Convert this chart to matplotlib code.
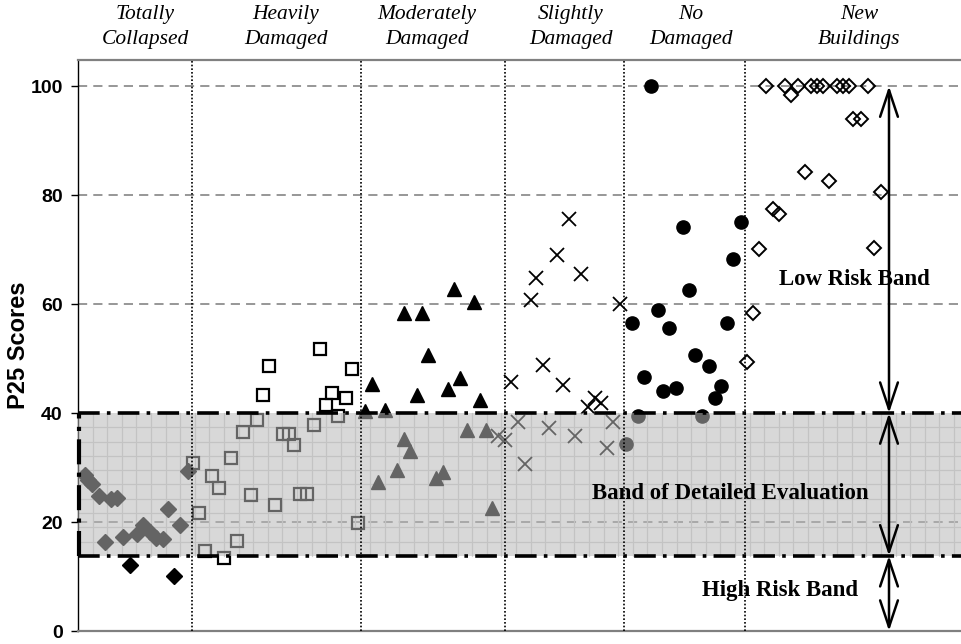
import numpy as np
import matplotlib.pyplot as plt
from matplotlib.patches import FancyArrowPatch
from matplotlib.transforms import blended_transform_factory

# building categories (label, centre position on the x axis)
categories = ['Totally\nCollapsed', 'Heavily\nDamaged', 'Moderately\nDamaged',
              'Slightly\nDamaged', 'No\nDamaged', 'New\nBuildings']
cat_centres = [6.7, 20.8, 34.9, 49.3, 61.3, 78.1]
dividers = [11.4, 28.3, 42.7, 54.6, 66.7]

# P25 scores
collapsed_x = [0.7, 1.0, 1.4, 2.1, 3.3, 3.9, 2.7, 4.5, 5.9, 6.5, 7.2, 7.8, 8.5, 9.0, 10.2, 11.0, 5.2, 9.6]
collapsed_y = [28.6, 27.7, 27.0, 24.8, 24.2, 24.5, 16.4, 17.2, 17.8, 19.4, 18.2, 17.0, 16.8, 22.3, 19.4, 29.4, 12.1, 10.1]

heavy_x = [14.6, 18.5, 19.1, 24.2, 24.8, 25.4, 26.8, 27.4,
           11.5, 12.1, 12.7, 13.4, 14.1, 15.3, 15.9, 16.5, 17.3, 17.9,
           19.7, 20.5, 21.1, 21.6, 22.2, 22.9, 23.6, 26.0, 28.0]
heavy_y = [13.4, 43.4, 48.7, 51.7, 41.4, 43.7, 42.8, 48.0,
           30.8, 21.6, 14.7, 28.5, 26.2, 31.8, 16.6, 36.5, 24.9, 38.7,
           23.1, 36.1, 36.1, 34.1, 25.1, 25.1, 37.8, 39.5, 19.9]

moderate_x = [28.7, 30.7, 29.4, 32.6, 30.0, 31.9, 33.9, 33.2, 32.6, 34.4, 35.0,
              35.8, 36.5, 37.0, 37.6, 38.2, 38.9, 39.6, 40.2, 40.8, 41.4]
moderate_y = [40.4, 40.5, 45.4, 35.2, 27.3, 29.5, 43.4, 33.1, 58.3, 58.3, 50.6,
              28.0, 29.2, 44.4, 62.7, 46.5, 36.9, 60.3, 42.4, 36.9, 22.5]

slight_x = [42.0, 42.7, 43.3, 44.0, 44.7, 45.3, 45.8, 46.5, 47.1, 47.9,
            48.5, 49.1, 49.7, 50.3, 51.0, 51.7, 52.3, 52.9, 53.5, 54.2]
slight_y = [35.7, 35.0, 45.7, 38.3, 30.6, 60.7, 64.7, 48.8, 37.2, 69.0,
            45.1, 75.6, 35.8, 65.6, 41.2, 42.7, 41.8, 33.5, 38.3, 60.1]

none_x = [54.8, 55.4, 56.0, 56.6, 57.3, 58.0, 58.5, 59.1, 59.8, 60.5,
          61.1, 61.7, 62.4, 63.1, 63.7, 64.3, 64.9, 65.5, 66.3]
none_y = [34.4, 56.6, 39.4, 46.7, 100.0, 58.9, 44.0, 55.7, 44.6, 74.2,
          62.6, 50.6, 39.4, 48.7, 42.7, 45.0, 56.6, 68.2, 75.0]

new_x = [66.9, 67.5, 68.1, 68.8, 69.5, 70.1, 70.7, 71.3, 72.0, 72.7, 73.3,
         73.9, 74.5, 75.1, 75.9, 76.5, 77.1, 77.5, 78.3, 79.0, 79.6, 80.3]
new_y = [49.4, 58.4, 70.2, 100.0, 77.4, 76.5, 100.0, 98.4, 100.0, 84.2, 100.0,
         100.0, 100.0, 82.6, 100.0, 100.0, 100.0, 94.0, 94.0, 100.0, 70.3, 80.6]

# risk bands
band_low, band_high = 13.8, 40
arrow_x = 81.1

fig = plt.figure(figsize=(9.62, 6.44), dpi=100)
ax = fig.add_axes([78 / 962, 13 / 644, 884 / 962, 571 / 644])
ax.set_xlim(0, 88.4)
ax.set_ylim(0, 104.8)

# dashed horizontal grid
for yv in [20, 60, 80, 100]:
    ax.axhline(yv, color='#7a7a7a', lw=1.1, ls=(0, (6, 4)), zorder=1)

# fine grid inside the detailed evaluation band
for xv in np.arange(1.46, 88.4, 1.46):
    ax.plot([xv, xv], [band_low, band_high], color='#d2d2d2', lw=0.9, zorder=1)
for yv in np.arange(band_high - 2.62, band_low, -2.62):
    ax.axhline(yv, color='#d2d2d2', lw=0.9, zorder=1)

# markers
ax.plot(collapsed_x, collapsed_y, ls='none', marker='D', ms=8.5, color='black', zorder=2)
ax.plot(heavy_x, heavy_y, ls='none', marker='s', ms=9, mfc='none', mec='black', mew=1.6, zorder=2)
ax.plot(moderate_x, moderate_y, ls='none', marker='^', ms=10, color='black', zorder=2)
ax.plot(slight_x, slight_y, ls='none', marker='x', ms=9.5, mec='black', mew=1.3, zorder=2)
ax.plot(none_x, none_y, ls='none', marker='o', ms=9.5, color='black', zorder=2)
ax.plot(new_x, new_y, ls='none', marker='D', ms=7.5, mfc='none', mec='black', mew=1.4, zorder=2)

# translucent band over the points
ax.axhspan(band_low, band_high, color='#b8b8b8', alpha=0.55, lw=0, zorder=3)
ax.axhline(band_high, color='black', lw=2.6, ls=(0, (6, 2, 1, 2)), zorder=4)
ax.axhline(band_low, color='black', lw=2.6, ls=(0, (6, 2, 1, 2)), zorder=4)
ax.plot([0.05, 0.05], [band_low, band_high], color='black', lw=3, ls=(0, (6, 2, 1, 2)),
        zorder=4, clip_on=False)

# category dividers
for xv in dividers:
    ax.axvline(xv, color='black', lw=1.2, ls=(0, (1, 1.2)), zorder=4)

# band arrows
for y0, y1 in [(100, band_high), (band_high, band_low), (band_low, 0)]:
    arr = FancyArrowPatch((arrow_x, y0), (arrow_x, y1), arrowstyle='<->,head_length=1.2,head_width=0.4',
                          mutation_scale=16, lw=1.8, color='black', shrinkA=0, shrinkB=0, zorder=5)
    ax.add_patch(arr)

band_font = dict(family=['Liberation Serif'], weight='bold', fontsize=16.5, ha='center', va='center', zorder=6)
ax.text(77.6, 64.6, 'Low Risk Band', **band_font)
ax.text(65.2, 25.3, 'Band of Detailed Evaluation', **band_font)
ax.text(70.2, 7.5, 'High Risk Band', **band_font)

# category headings above the plot
head_tr = blended_transform_factory(ax.transData, fig.transFigure)
for label, xc in zip(categories, cat_centres):
    ax.text(xc, 1 - 27 / 644, label, transform=head_tr, family=['Liberation Serif'],
            style='italic', fontsize=15.5, ha='center', va='center', linespacing=1.45)

# axes styling
ax.spines['right'].set_visible(False)
ax.spines['top'].set_color('#808080')
ax.spines['top'].set_linewidth(1.6)
ax.spines['bottom'].set_color('#808080')
ax.spines['bottom'].set_linewidth(1.6)
ax.spines['left'].set_linewidth(1.0)
ax.set_xticks([])
ax.set_yticks([0, 20, 40, 60, 80, 100])
ax.tick_params(axis='y', length=5, width=1, pad=6)
for t in ax.get_yticklabels():
    t.set_fontfamily(['Liberation Sans Narrow', 'Liberation Sans'])
    t.set_fontweight('bold')
    t.set_fontsize(14)
ax.set_ylabel('P25 Scores', family=['Liberation Sans'], fontweight='bold', fontsize=17)
ax.yaxis.set_label_coords(-0.054, 0.5)

fig.savefig('out.png', dpi=100)
